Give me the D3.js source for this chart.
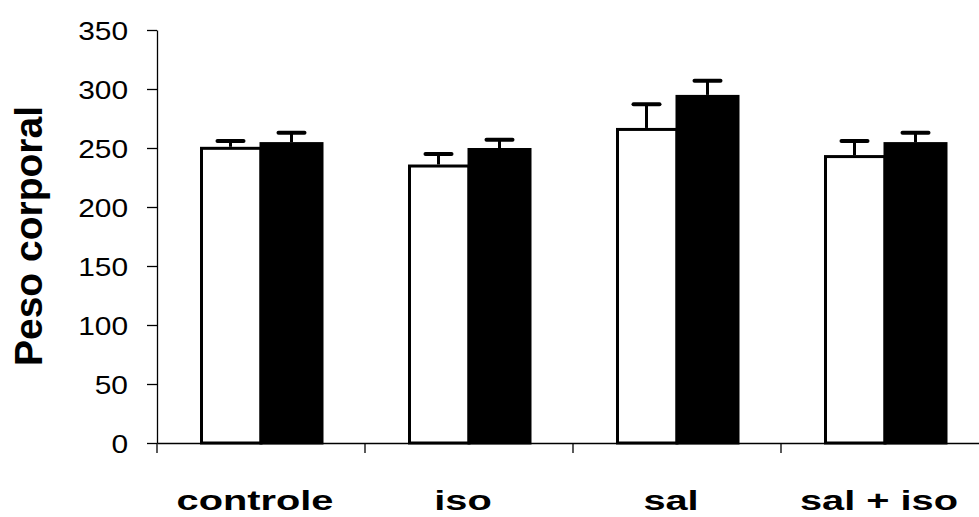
<!DOCTYPE html>
<html>
<head>
<meta charset="utf-8">
<script src="https://cdn.jsdelivr.net/npm/d3@7"></script>
<style>
  body { margin: 0; background: #fff; }
  text { font-family: "Liberation Sans", Arial, sans-serif; fill: #000; }
</style>
</head>
<body>
<script>
var categories = ["controle", "iso", "sal", "sal + iso"];
var seriesNames = ["white", "black"];
var whiteValues = [251, 236, 267, 244];
var whiteErrors = [5, 9, 20, 12];
var blackValues = [255, 250, 295, 255];
var blackErrors = [8, 7, 12, 8];
var yTicks = [0, 50, 100, 150, 200, 250, 300, 350];

var margin = {top: 30, right: -10, bottom: 74, left: 157};
var width = 979 - margin.left - margin.right,
    height = 517 - margin.top - margin.bottom;

var svg = d3.select("body").append("svg")
    .attr("width", 979)
    .attr("height", 517);

var g = svg.append("g")
    .attr("transform", "translate(" + margin.left + "," + margin.top + ")");

var x = d3.scaleBand().domain(categories).range([0, width]);
var xs = d3.scaleBand().domain(seriesNames).range([0, 122]);
var y = d3.scaleLinear().domain([0, 350]).range([height, 0]);

var data = categories.map(function(c, i) {
  return [
    {cat: c, s: "white", v: whiteValues[i], e: whiteErrors[i]},
    {cat: c, s: "black", v: blackValues[i], e: blackErrors[i]}
  ];
});

// bars
var groups = g.selectAll(".grp").data(data).enter().append("g")
    .attr("transform", function(d) { return "translate(" + (x(d[0].cat) + x.bandwidth() / 2 - 61) + ",0)"; });

groups.selectAll("rect").data(function(d) { return d; }).enter().append("rect")
    .attr("x", function(d) { return xs(d.s) + (d.s === "white" ? 1.5 : 0); })
    .attr("y", function(d) { return y(d.v) + 1.5; })
    .attr("width", function(d) { return xs.bandwidth() - (d.s === "white" ? 1.5 : 0); })
    .attr("height", function(d) { return height - y(d.v) - 1.5; })
    .attr("fill", function(d) { return d.s === "white" ? "#fff" : "#000"; })
    .attr("stroke", "#000")
    .attr("stroke-width", 3);

// error bars
var err = groups.selectAll(".err").data(function(d) { return d; }).enter().append("g");
err.append("line")
    .attr("x1", function(d) { return xs(d.s) + xs.bandwidth() / 2; })
    .attr("x2", function(d) { return xs(d.s) + xs.bandwidth() / 2; })
    .attr("y1", function(d) { return y(d.v); })
    .attr("y2", function(d) { return y(d.v + d.e); })
    .attr("stroke", "#000").attr("stroke-width", 3);
err.append("line")
    .attr("x1", function(d) { return xs(d.s) + xs.bandwidth() / 2 - 13; })
    .attr("x2", function(d) { return xs(d.s) + xs.bandwidth() / 2 + 13; })
    .attr("y1", function(d) { return y(d.v + d.e); })
    .attr("y2", function(d) { return y(d.v + d.e); })
    .attr("stroke", "#000").attr("stroke-width", 4)
    .attr("stroke-linecap", "round");

// y axis
var yAxis = g.append("g")
    .call(d3.axisLeft(y).tickValues(yTicks).tickSize(10).tickSizeOuter(0));
yAxis.select(".domain").attr("stroke-width", 1.3);
yAxis.selectAll("line").attr("stroke-width", 1.3);
// the reference text is stretched sideways, so widen the glyphs a bit
yAxis.selectAll("text")
    .style("font-size", "26px")
    .attr("dy", "0.36em")
    .attr("x", -29 / 1.15)
    .attr("transform", "scale(1.15,1)");

// x axis
var xAxis = g.append("g")
    .attr("transform", "translate(0," + height + ")")
    .call(d3.axisBottom(x).tickValues([]).tickSizeOuter(0));
xAxis.select(".domain").attr("stroke-width", 1.3);
xAxis.selectAll(".bound").data(categories).enter().append("line")
    .attr("x1", function(d) { return x(d); })
    .attr("x2", function(d) { return x(d); })
    .attr("y1", 0).attr("y2", 10)
    .attr("stroke", "#000").attr("stroke-width", 1.3);

g.selectAll(".cat").data(categories).enter().append("text")
    .attr("transform", function(d) {
      return "translate(" + (x(d) + x.bandwidth() / 2 - 6) + "," + (height + 67) + ") scale(1.42,1)";
    })
    .attr("text-anchor", "middle")
    .style("font-size", "28px")
    .style("font-weight", "bold")
    .text(function(d) { return d; });

svg.append("text")
    .attr("transform", "translate(42,236) rotate(-90)")
    .attr("text-anchor", "middle")
    .style("font-size", "39px")
    .style("font-weight", "bold")
    .text("Peso corporal");
</script>
</body>
</html>
